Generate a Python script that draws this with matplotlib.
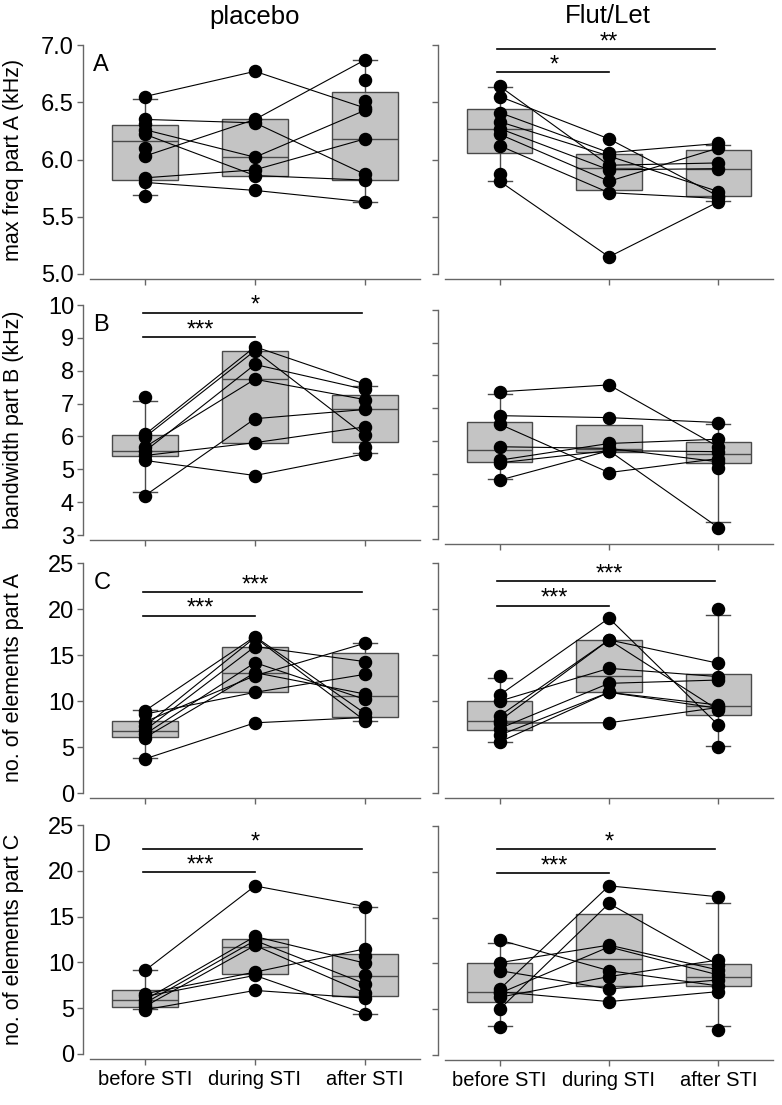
import numpy as np
import matplotlib
matplotlib.use("Agg")
import matplotlib.pyplot as plt

plt.rcParams['font.family'] = ['Liberation Sans', 'DejaVu Sans']

nan = np.nan

# --- labels ---
GROUPS = ["before STI", "during STI", "after STI"]
COLUMNS = ["placebo", "Flut/Let"]
LETTERS = ["A", "B", "C", "D"]
Y_LABELS = ["max freq part A (kHz)", "bandwidth part B (kHz)",
            "no. of elements part A", "no. of elements part C"]
Y_TICKS = [[5.0, 5.5, 6.0, 6.5, 7.0], [3, 4, 5, 6, 7, 8, 9, 10],
           [0, 5, 10, 15, 20, 25], [0, 5, 10, 15, 20, 25]]
Y_TICKLABELS = [["5.0", "5.5", "6.0", "6.5", "7.0"], ["3", "4", "5", "6", "7", "8", "9", "10"],
                ["0", "5", "10", "15", "20", "25"], ["0", "5", "10", "15", "20", "25"]]

# --- individual animals (before / during / after), nan = no value ---
a_plac_before = [6.55, 6.35, 6.03, 6.26, 6.22, 5.84, 5.80, 6.31, 6.10, 5.68, nan, nan]
a_plac_during = [6.77, 6.32, 6.35, 6.02, 5.86, 5.91, 5.73, nan, nan, nan, nan, nan]
a_plac_after = [6.45, 5.87, 6.87, 6.43, 5.82, 6.18, 5.63, nan, nan, nan, 6.69, 6.51]

a_flut_before = [6.64, 6.55, 6.41, 6.33, 6.27, 6.22, 6.12, 5.81, 5.87]
a_flut_during = [5.95, 6.18, 6.06, 6.03, 5.91, 5.81, 5.71, 5.15, nan]
a_flut_after = [5.97, 5.68, 6.14, 5.72, 5.92, 6.10, 5.66, 5.63, nan]

b_plac_before = [6.06, 5.98, 5.55, 5.68, 4.20, 5.42, 5.27, 7.20, nan]
b_plac_during = [8.73, 8.61, 8.19, 7.74, 6.54, 5.81, 4.81, nan, nan]
b_plac_after = [7.59, 6.03, 7.43, 7.12, 6.82, 6.29, 5.47, nan, 5.68]

b_flut_before = [7.50, 6.77, 6.51, 5.82, 5.41, 5.33, 4.80, nan]
b_flut_during = [7.71, 6.71, 5.03, 5.77, 5.92, 5.70, 5.70, nan]
b_flut_after = [5.82, 6.56, 5.46, 5.36, 6.05, 5.67, 3.35, 5.16]

c_plac_before = [3.71, 8.94, 8.58, 7.74, 6.83, 6.40, 6.03, 7.27]
c_plac_during = [7.63, 17.01, 10.94, 12.75, 15.92, 14.17, 13.08, 16.9]
c_plac_after = [8.21, 8.65, 12.90, 16.28, 14.28, 10.17, 10.76, 7.85]

c_flut_before = [10.65, 9.99, 8.39, 7.85, 7.60, 7.01, 6.29, 5.56, 12.72, nan, nan]
c_flut_during = [19.0, 13.55, 16.64, 16.64, 7.63, 11.92, 10.94, 10.94, nan, nan, nan]
c_flut_after = [7.38, 12.65, 14.10, 9.01, 9.30, 12.28, 9.56, 9.20, nan, 19.99, 5.01]

d_plac_before = [9.12, 5.92, 5.56, 5.20, 6.58, 6.29, 4.83, nan, nan]
d_plac_during = [18.35, 12.83, 12.39, 11.85, 8.94, 8.58, 6.94, nan, nan]
d_plac_after = [16.10, 9.92, 7.67, 6.65, 11.48, 4.40, 6.10, 10.65, 8.65]

d_flut_before = [7.18, 5.00, 10.08, 12.55, 9.21, 6.74, 6.31, 6.90, 3.04, nan]
d_flut_during = [18.47, 16.54, 12.00, 9.21, 7.21, 11.80, 8.56, 5.83, nan, nan]
d_flut_after = [17.27, 9.83, 9.28, 7.54, 8.19, 8.74, 10.37, 6.92, nan, 2.75]

# --- box statistics (25th, median, 75th, 10th / 90th whiskers; nan = no whisker) ---
a_plac_q1, a_plac_med, a_plac_q3 = [5.82, 5.86, 5.82], [6.16, 6.02, 6.18], [6.30, 6.35, 6.59]
a_plac_wlo, a_plac_whi = [5.69, nan, 5.63], [6.53, nan, 6.87]
a_flut_q1, a_flut_med, a_flut_q3 = [6.055, 5.73, 5.683], [6.265, 5.93, 5.92], [6.44, 6.05, 6.08]
a_flut_wlo, a_flut_whi = [5.81, nan, 5.64], [6.63, nan, 6.13]
b_plac_q1, b_plac_med, b_plac_q3 = [5.39, 5.80, 5.83], [5.57, 7.74, 6.82], [6.05, 8.61, 7.27]
b_plac_wlo, b_plac_whi = [4.30, nan, 5.49], [7.07, nan, 7.55]
b_flut_q1, b_flut_med, b_flut_q3 = [5.34, 5.67, 5.31], [5.72, 5.75, 5.60], [6.59, 6.48, 5.97]
b_flut_wlo, b_flut_whi = [4.82, nan, 3.53], [7.42, nan, 6.51]
c_plac_q1, c_plac_med, c_plac_q3 = [6.10, 10.94, 8.29], [6.76, 13.0, 10.57], [7.85, 15.92, 15.19]
c_plac_wlo, c_plac_whi = [3.85, nan, 7.85], [9.01, nan, 16.28]
c_flut_q1, c_flut_med, c_flut_q3 = [6.90, 10.94, 8.43], [7.85, 12.72, 9.45], [10.03, 16.61, 12.90]
c_flut_wlo, c_flut_whi = [5.56, nan, 5.12], [12.54, nan, 19.37]
d_plac_q1, d_plac_med, d_plac_q3 = [5.09, 8.76, 6.36], [5.92, 11.66, 8.47], [7.01, 12.57, 10.94]
d_plac_wlo, d_plac_whi = [4.91, nan, 4.40], [9.12, nan, 16.10]
d_flut_q1, d_flut_med, d_flut_q3 = [5.83, 7.58, 7.54], [6.85, 10.48, 8.48], [10.01, 15.34, 9.90]
d_flut_wlo, d_flut_whi = [3.22, nan, 3.18], [12.26, nan, 16.54]

# --- significance bars: (from group, to group, height, stars) ---
a_plac_sig = []
a_flut_sig = [(1, 2, 6.76, "*"), (1, 3, 6.965, "**")]
b_plac_sig = [(1, 2, 9.03, "***"), (1, 3, 9.77, "*")]
b_flut_sig = []
c_plac_sig = [(1, 2, 19.26, "***"), (1, 3, 21.84, "***")]
c_flut_sig = [(1, 2, 20.35, "***"), (1, 3, 23.0, "***")]
d_plac_sig = [(1, 2, 19.84, "***"), (1, 3, 22.38, "*")]
d_flut_sig = [(1, 2, 19.88, "***"), (1, 3, 22.46, "*")]

PANELS = [
    [(a_plac_before, a_plac_during, a_plac_after, a_plac_q1, a_plac_med, a_plac_q3, a_plac_wlo, a_plac_whi, a_plac_sig),
     (a_flut_before, a_flut_during, a_flut_after, a_flut_q1, a_flut_med, a_flut_q3, a_flut_wlo, a_flut_whi, a_flut_sig)],
    [(b_plac_before, b_plac_during, b_plac_after, b_plac_q1, b_plac_med, b_plac_q3, b_plac_wlo, b_plac_whi, b_plac_sig),
     (b_flut_before, b_flut_during, b_flut_after, b_flut_q1, b_flut_med, b_flut_q3, b_flut_wlo, b_flut_whi, b_flut_sig)],
    [(c_plac_before, c_plac_during, c_plac_after, c_plac_q1, c_plac_med, c_plac_q3, c_plac_wlo, c_plac_whi, c_plac_sig),
     (c_flut_before, c_flut_during, c_flut_after, c_flut_q1, c_flut_med, c_flut_q3, c_flut_wlo, c_flut_whi, c_flut_sig)],
    [(d_plac_before, d_plac_during, d_plac_after, d_plac_q1, d_plac_med, d_plac_q3, d_plac_wlo, d_plac_whi, d_plac_sig),
     (d_flut_before, d_flut_during, d_flut_after, d_flut_q1, d_flut_med, d_flut_q3, d_flut_wlo, d_flut_whi, d_flut_sig)],
]

# --- style ---
W, H = 782, 1105
BOX_FILL = "#c4c4c4"
BOX_EDGE = "#4a4a4a"
AXIS_COL = "#666666"
COL_X = [(90, 420), (445, 773)]               # pixel extents of the columns
ROW_Y = [[(45, 274), (45, 274)], [(305, 535), (310, 539)],
         [(563, 793), (563, 793)], [(825, 1054), (826, 1055)]]


def draw_panel(ax, before, during, after, q1, med, q3, wlo, whi, sig):
    pos = [1, 2, 3]
    stats = []
    for i in range(3):
        lo = q1[i] if np.isnan(wlo[i]) else wlo[i]
        hi = q3[i] if np.isnan(whi[i]) else whi[i]
        stats.append(dict(q1=q1[i], med=med[i], q3=q3[i], whislo=lo, whishi=hi, fliers=[]))
    bp = ax.bxp(stats, positions=pos, widths=0.6, capwidths=0.22, patch_artist=True,
                showfliers=False, manage_ticks=False,
                boxprops=dict(facecolor=BOX_FILL, edgecolor=BOX_EDGE, linewidth=1.0),
                medianprops=dict(color=BOX_EDGE, linewidth=1.0),
                whiskerprops=dict(color=BOX_EDGE, linewidth=1.0),
                capprops=dict(color=BOX_EDGE, linewidth=1.0))
    # groups too small for percentile whiskers
    for i in range(3):
        if np.isnan(wlo[i]):
            bp['whiskers'][2 * i].set_visible(False)
            bp['caps'][2 * i].set_visible(False)
        if np.isnan(whi[i]):
            bp['whiskers'][2 * i + 1].set_visible(False)
            bp['caps'][2 * i + 1].set_visible(False)

    vals = np.array([before, during, after], dtype=float).T
    for row in vals:
        ax.plot(pos, row, color="black", linewidth=0.8, zorder=3)
    for row in vals:
        ax.plot(pos, row, "o", color="black", markersize=8.7, zorder=4)

    for g1, g2, y, stars in sig:
        ax.plot([g1 - 0.02, g2 - 0.03 * (g2 - 2)], [y, y], color="black", linewidth=1.2,
                zorder=5, clip_on=False)
        ax.annotate(stars, xy=((g1 + g2) / 2, y), xytext=(0, -3), textcoords="offset points",
                    ha="center", va="bottom", fontsize=17, annotation_clip=False)


fig = plt.figure(figsize=(W / 100, H / 100), dpi=100)

for r in range(4):
    for c in range(2):
        x0, x1 = COL_X[c]
        y0, y1 = ROW_Y[r][c]
        ax = fig.add_axes([x0 / W, 1 - y1 / H, (x1 - x0) / W, (y1 - y0) / H])
        draw_panel(ax, *PANELS[r][c])

        ax.set_xlim(0.5, 3.5)
        ax.set_ylim(Y_TICKS[r][0], Y_TICKS[r][-1])
        ax.set_xticks([1, 2, 3])
        ax.set_yticks(Y_TICKS[r])
        for side in ["top", "right"]:
            ax.spines[side].set_visible(False)
        ax.spines["left"].set_position(("outward", 5))
        ax.spines["bottom"].set_position(("outward", 3.6))
        for side in ["left", "bottom"]:
            ax.spines[side].set_color(AXIS_COL)
            ax.spines[side].set_linewidth(1.0)
        ax.tick_params(colors=AXIS_COL, length=4, width=1.0, labelcolor="black")
        ax.tick_params(axis="y", pad=2.5, labelsize=17)
        ax.tick_params(axis="x", pad=4, labelsize=14.5)

        if c == 0:
            ax.set_yticklabels(Y_TICKLABELS[r])
            ax.set_ylabel(Y_LABELS[r], fontsize=15.5)
            ax.yaxis.set_label_coords(-0.2, 0.5)
            ax.text(0.01, 0.96, LETTERS[r], transform=ax.transAxes, fontsize=17,
                    ha="left", va="top")
        else:
            ax.tick_params(axis="y", labelleft=False)
        if r == 3:
            ax.set_xticklabels(GROUPS)
        else:
            ax.tick_params(axis="x", labelbottom=False)

fig.text(255 / W, 1 - 17 / H, COLUMNS[0], ha="center", va="center", fontsize=18.5)
fig.text(608 / W, 1 - 16 / H, COLUMNS[1], ha="center", va="center", fontsize=18.5)

fig.savefig("out.png", dpi=100)
